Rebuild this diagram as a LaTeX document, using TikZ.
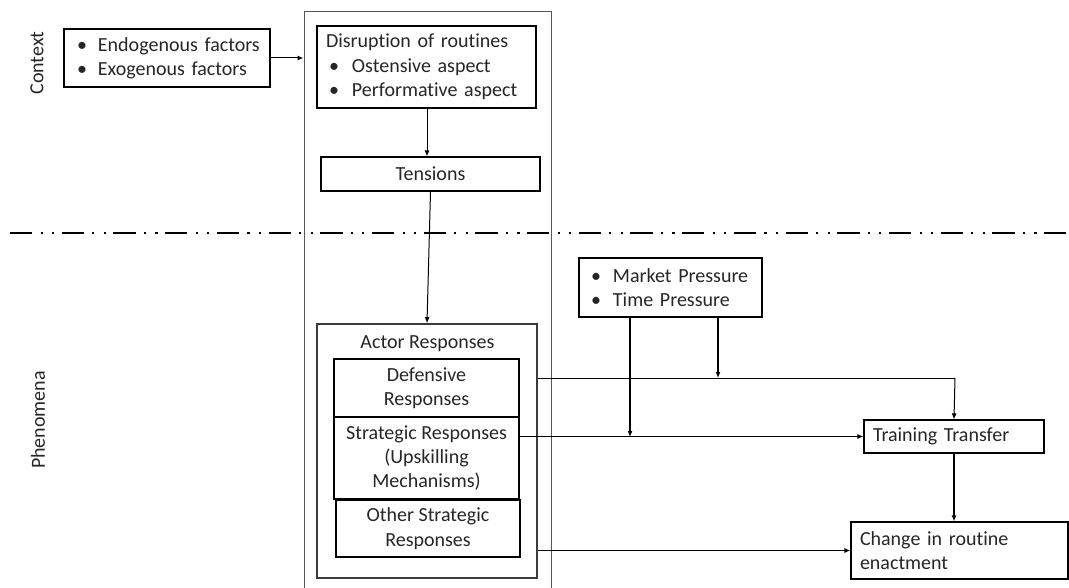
\documentclass[tikz,border=0pt]{standalone}
\usepackage{fontspec}
\setmainfont{Carlito}[Ligatures=NoCommon]
\usetikzlibrary{arrows.meta}
\definecolor{ink}{HTML}{262626}
\definecolor{frame}{HTML}{555555}
% bullet followed by its hanging space; #1 = left pad, #2 = bullet slot
\newcommand{\bul}[2]{\hspace*{#1}\makebox[#2][l]{•}}
\begin{document}
\begin{tikzpicture}[x=1pt,y=-1pt,
  txt/.style={font=\fontsize{20}{24.4}\selectfont, text=ink},
  box/.style={txt, draw=black, line width=1.1pt, rectangle, inner sep=0pt},
  cbox/.style={box, align=center},
  lbox/.style={box, align=left, inner sep=0pt},
  conn/.style={draw=black, line width=1pt},
  arr/.style={conn, -{Latex[length=6pt,width=5pt]}},
  sidelabel/.style={txt, rotate=90, inner sep=0pt}]
\useasboundingbox (0,0) rectangle (1069,588);

% section labels
\node[sidelabel] (lctx) at (37,63) {Context};
\node[sidelabel] (lphen) at (38,420) {Phenomena};

% boundary between context and phenomena
\draw[line width=2.4pt, dash pattern=on 22.3pt off 8.3pt on 2.1pt off 9.3pt on 2.2pt off 7.5pt]
  (10,233) -- (1069,233);

% open frame around the routine boxes
\node[draw=frame, line width=1pt, minimum width=247pt, minimum height=608pt, inner sep=0pt]
  (stage) at (427.5,316) {};

% context boxes
\node[lbox, minimum width=206pt, minimum height=58pt, text width=206pt]
  (endo) at (167,58) {\bul{13pt}{21pt}Endogenous factors\\ \bul{13pt}{21pt}Exogenous factors};
\node[lbox, minimum width=219pt, minimum height=82pt, text width=219pt]
  (disrupt) at (426.5,67) {\hspace*{9pt}Disruption of routines\\
    \bul{12pt}{23pt}Ostensive aspect\\
    \bul{12pt}{23pt}Performative aspect};
\node[cbox, minimum width=219pt, minimum height=34pt] (tensions) at (430.5,174) {Tensions};

% actor responses
\node[draw=frame!70!black, line width=1.6pt, minimum width=220pt, minimum height=254pt, inner sep=0pt]
  (actor) at (427,451) {};
\node[txt, inner sep=0pt] (actortitle) at (427.5,344) {Actor Responses};
\node[cbox, minimum width=185pt, minimum height=58pt] (def) at (426.5,388) {Defensive\\Responses};
\node[cbox, minimum width=185pt, minimum height=82pt] (strat) at (426.5,458)
  {Strategic Responses\\(Upskilling\\Mechanisms)};
\node[cbox, minimum width=184pt, minimum height=57pt] (other) at (428,528.5)
  {Other Strategic\\Responses};

% moderators and outcomes
\node[lbox, line width=1.4pt, minimum width=183pt, minimum height=59pt, text width=183pt]
  (market) at (670.5,287.5) {\bul{12pt}{22pt}Market Pressure\\ \bul{12pt}{22pt}Time Pressure};
\node[lbox, minimum width=180pt, minimum height=33pt, text width=180pt]
  (training) at (954,436.5) {\hspace*{9pt}Training Transfer};
\node[lbox, minimum width=217pt, minimum height=57pt, text width=217pt]
  (change) at (959.5,550.5) {\hspace*{9pt}Change in routine\\ \hspace*{9pt}enactment};

% junction points on the connectors
\coordinate (defj) at (955,378);
\coordinate (mj1) at (630,437);
\coordinate (mj2) at (718,378);

% connectors
\draw[arr] (endo.east) -- (endo.east -| stage.west);
\draw[arr] (disrupt.south -| 427,0) -- (tensions.north -| 427,0);
\draw[arr] (tensions.south) -- (actor.north);
\draw[conn] (actor.east |- defj) -- (defj);
\draw[arr] (defj) -- (training.north);
\draw[arr] (training.west -| strat.east) -- (training.west);
\draw[arr] (change.west -| actor.east) -- (change.west);
\draw[arr, line width=1.4pt] (training.south) -- (training.south |- change.north);
\draw[arr, line width=1.4pt] (market.south -| mj1) -- (mj1);
\draw[arr, line width=1.4pt] (market.south -| mj2) -- (mj2);
\end{tikzpicture}
\end{document}
